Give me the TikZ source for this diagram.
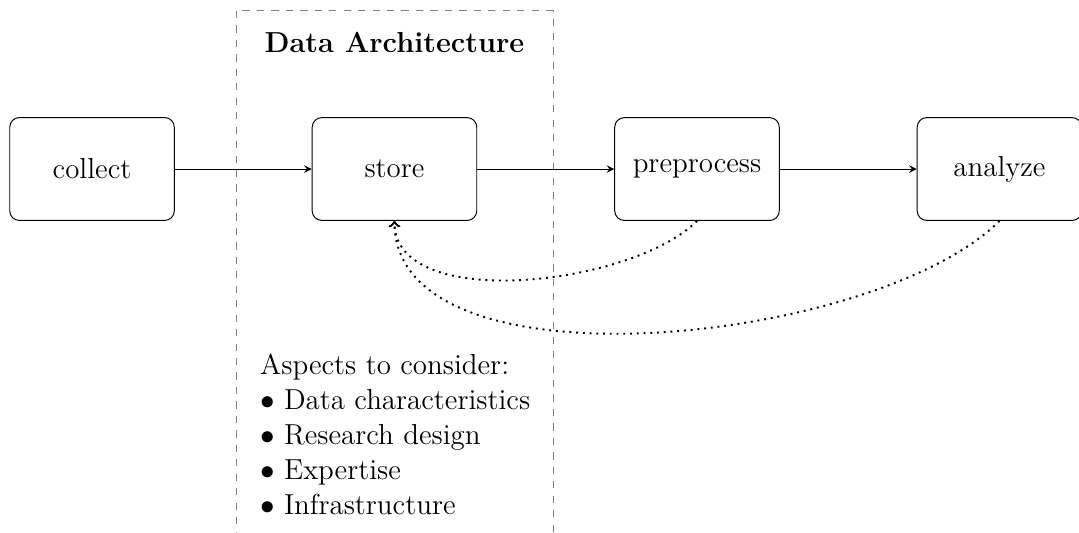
\documentclass[tikz,border=0pt,12pt]{standalone}
\usetikzlibrary{arrows}
\begin{document}
\begin{tikzpicture}[
  stage/.style={rectangle, rounded corners, draw, minimum width=2.4cm, minimum height=1.5cm},
  flow/.style={-stealth},
  feedback/.style={->, thick, dotted}
]
\useasboundingbox (0,0) rectangle (15.736,-7.759);

% frame of the data architecture part
\draw [dashed, gray] (3.442,-0.16) rectangle (8.065,-8.5);

\node [stage] (collect) at (1.342,-2.465) {collect};
\node [stage] (store) at (5.753,-2.465) {store};
\node [stage] (preprocess) at (10.165,-2.465) {preprocess};
\node [stage] (analyze) at (14.576,-2.465) {analyze};
\node [font=\bfseries] (title) at (5.753,-0.62) {Data Architecture};
\node [align=left, anchor=north west] (aspects) at (3.646,-5.013) {Aspects to consider:\\
  $\bullet$ Data characteristics\\
  $\bullet$ Research design\\
  $\bullet$ Expertise\\
  $\bullet$ Infrastructure};

\draw [flow] (collect) edge (store);
\draw [flow] (store) edge (preprocess);
\draw [flow] (preprocess) edge (analyze);
\draw [feedback] (preprocess.south) to [out=-135, in=-90, looseness=0.78] (store.south);
\draw [feedback] (analyze.south) to [out=-135, in=-90, looseness=0.74] (store.south);
\end{tikzpicture}
\end{document}
